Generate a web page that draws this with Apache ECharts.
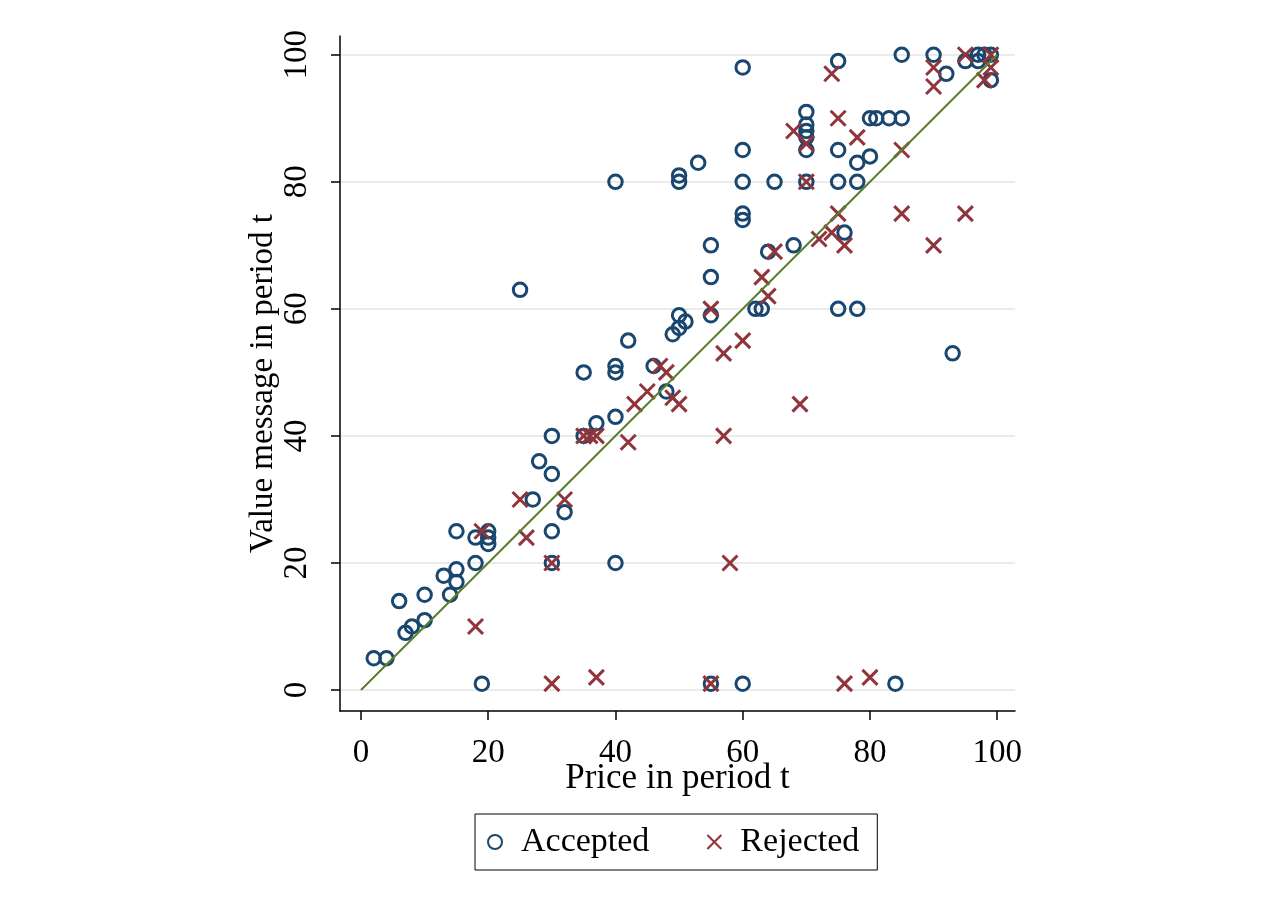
<!DOCTYPE html>
<html>
<head>
<meta charset="utf-8">
<script src="https://cdn.jsdelivr.net/npm/echarts@6/dist/echarts.min.js"></script>
<style>
html,body{margin:0;padding:0;background:#fff;}
#chart{width:1269px;height:908px;}
</style>
</head>
<body>
<div id="chart"></div>
<script>
// Accepted offers: [price, value message]
const accepted = [
  [2,5],[4,5],[7,9],[8,10],[10,11],[6,14],[10,15],[14,15],[15,17],[13,18],[15,19],[18,20],
  [15,25],[18,24],[20,25],[20,24],[20,23],[19,1],[28,36],[30,34],[27,30],[32,28],[30,25],
  [30,20],[40,20],[30,40],[35,40],[37,42],[40,43],[35,50],[40,51],[40,50],[42,55],[46,51],
  [48,47],[49,56],[50,57],[51,58],[50,59],[25,63],[55,59],[55,65],[55,70],[40,80],[50,80],
  [50,81],[53,83],[60,74],[60,75],[60,80],[60,85],[60,98],[62,60],[63,60],[64,69],[68,70],
  [65,80],[70,80],[70,85],[70,87],[70,88],[70,89],[70,91],[75,60],[78,60],[76,72],[75,80],
  [78,80],[75,85],[78,83],[80,84],[80,90],[81,90],[83,90],[85,90],[75,99],[85,100],[90,100],
  [92,97],[93,53],[95,99],[97,99],[97,100],[98,100],[99,100],[99,96],[55,1],[60,1],[84,1]
];
// Rejected offers: [price, value message]
const rejected = [
  [18,10],[19,25],[25,30],[26,24],[32,30],[30,20],[30,1],[37,2],[35,40],[36,40],[37,40],
  [42,39],[43,45],[45,47],[47,51],[48,50],[49,46],[50,45],[55,60],[57,53],[60,55],[57,40],
  [58,20],[55,1],[76,1],[80,2],[63,65],[64,62],[65,69],[69,45],[72,71],[74,72],[76,70],
  [75,75],[85,75],[95,75],[90,70],[68,88],[70,86],[70,80],[75,90],[78,87],[85,85],[74,97],
  [90,98],[90,95],[95,100],[99,100],[98,96],[99,98]
];
// 45-degree reference line
const diagonal = [[0,0],[100,100]];
const tickValues = [0,20,40,60,80,100];

const FONT = '"Liberation Serif", "Times New Roman", serif';
const chart = echarts.init(document.getElementById('chart'), null, {renderer:'canvas'});
chart.setOption({
  backgroundColor: '#ffffff',
  animation: false,
  grid: {left: 340, right: 254, top: 36, bottom: 197, containLabel: false},
  xAxis: {
    type: 'value', min: -3.3, max: 102.8,
    name: 'Price in period t', nameLocation: 'middle', nameGap: 50, nameMoveOverlap: false,
    nameTextStyle: {fontFamily: FONT, fontSize: 35, color: '#000'},
    axisLine: {show: true, onZero: false, lineStyle: {color: '#000', width: 1.5}},
    axisTick: {show: true, length: 9, customValues: tickValues, lineStyle: {color: '#000', width: 1.5}},
    axisLabel: {customValues: tickValues, margin: 26, fontFamily: FONT, fontSize: 33, color: '#000'},
    splitLine: {show: false}
  },
  yAxis: {
    type: 'value', min: -3.3, max: 102.95,
    name: 'Value message in period t', nameLocation: 'middle', nameGap: 60, nameRotate: 90, nameMoveOverlap: false,
    nameTextStyle: {fontFamily: FONT, fontSize: 33, color: '#000', padding: [0, 20, 0, 0]},
    axisLine: {show: true, onZero: false, lineStyle: {color: '#000', width: 1.5}},
    axisTick: {show: true, length: 9, customValues: tickValues, lineStyle: {color: '#000', width: 1.5}},
    axisLabel: {customValues: tickValues, rotate: 90, margin: 26, fontFamily: FONT, fontSize: 33, color: '#000'},
    splitLine: {show: true, lineStyle: {color: '#ebebeb', width: 2}}
  },
  legend: {
    data: ['Accepted', 'Rejected'],
    left: 475, top: 814,
    padding: [11, 18, 11, 12],
    borderColor: '#000', borderWidth: 1,
    itemGap: 57, itemWidth: 14, itemHeight: 14,
    textStyle: {fontFamily: FONT, fontSize: 34, color: '#000', padding: [0, 0, 0, 14]}
  },
  series: [
    {
      name: 'Accepted', type: 'scatter', data: accepted,
      symbol: 'circle', symbolSize: 13.5,
      itemStyle: {color: 'rgba(0,0,0,0)', borderColor: '#1a476f', borderWidth: 3, opacity: 1},
      emphasis: {disabled: true}
    },
    {
      name: 'Rejected', type: 'scatter', data: rejected,
      symbol: 'path://M0,0L10,10M10,0L0,10', symbolSize: 15,
      itemStyle: {color: 'rgba(0,0,0,0)', borderColor: '#90353b', borderWidth: 3, opacity: 1},
      emphasis: {disabled: true}
    },
    {
      name: 'Line', type: 'line', data: diagonal, showSymbol: false, symbol: 'none',
      lineStyle: {color: '#5a7f2c', width: 2}, z: 3,
      emphasis: {disabled: true}
    }
  ]
});
</script>
</body>
</html>
